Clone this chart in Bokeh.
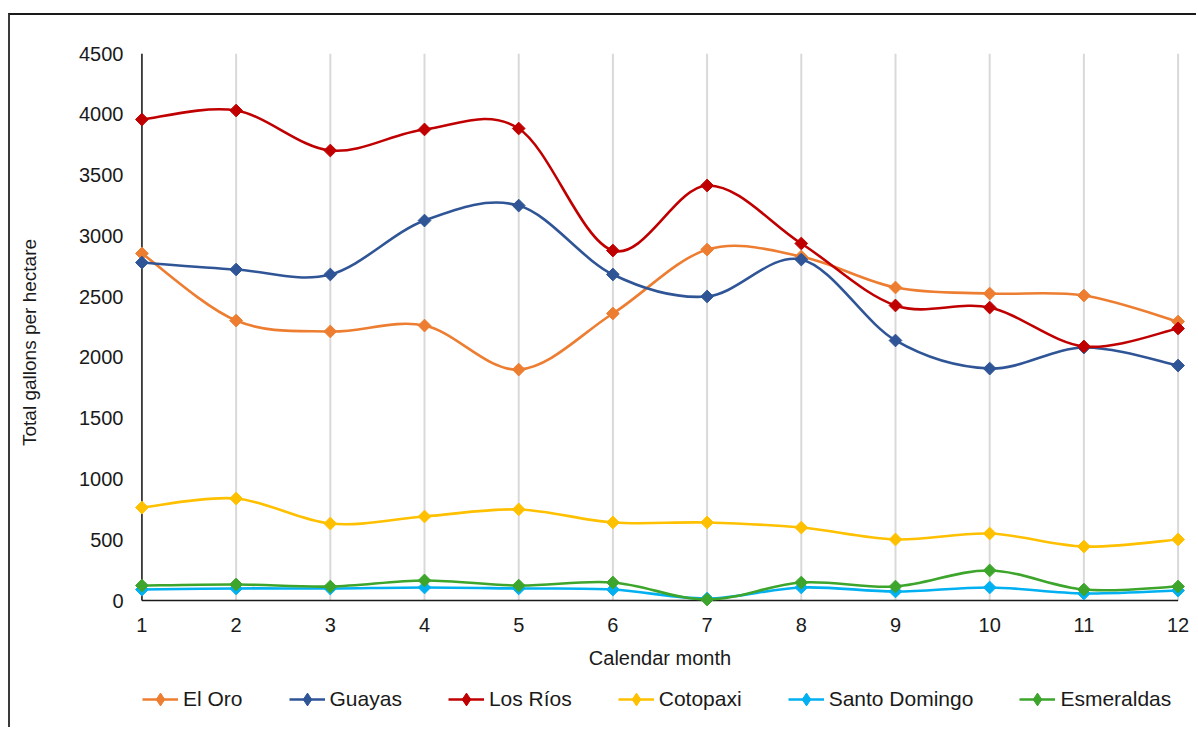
import numpy as np
from bokeh.plotting import figure
from bokeh.layouts import column
from bokeh.models import Range1d, FixedTicker, Legend, LegendItem
from bokeh.embed import file_html
from bokeh.resources import INLINE

# Monthly totals (gallons per hectare) by province
months = list(range(1, 13))
el_oro = [2855, 2303, 2213, 2262, 1900, 2361, 2887, 2830, 2575, 2525, 2509, 2295]
guayas = [2780, 2723, 2682, 3126, 3249, 2682, 2501, 2805, 2139, 1908, 2081, 1933]
los_rios = [3957, 4031, 3702, 3875, 3883, 2879, 3414, 2937, 2427, 2410, 2090, 2238]
cotopaxi = [765, 839, 633, 691, 749, 642, 642, 600, 502, 551, 444, 502]
santo_domingo = [90, 99, 99, 107, 99, 90, 16, 107, 74, 107, 58, 82]
esmeraldas = [123, 132, 115, 165, 123, 148, 8, 148, 115, 247, 90, 115]

y_ticks = [0, 500, 1000, 1500, 2000, 2500, 3000, 3500, 4000, 4500]

series = [
    ("El Oro", el_oro, "#ED7D31"),
    ("Guayas", guayas, "#2F5597"),
    ("Los Ríos", los_rios, "#C00000"),
    ("Cotopaxi", cotopaxi, "#FFC000"),
    ("Santo Domingo", santo_domingo, "#00B0F0"),
    ("Esmeraldas", esmeraldas, "#3DA52C"),
]

FONT = "Liberation Sans"
INK = "#1a1a1a"


def bezier_controls(x, y):
    """Cubic Bezier segments through the points (Catmull-Rom style smoothing)."""
    xs = np.asarray(x, dtype=float)
    ys = np.asarray(y, dtype=float)
    xp = np.concatenate([[xs[0]], xs, [xs[-1]]])
    yp = np.concatenate([[ys[0]], ys, [ys[-1]]])
    n = len(xs)
    seg = dict(x0=[], y0=[], x1=[], y1=[], cx0=[], cy0=[], cx1=[], cy1=[])
    for i in range(n - 1):
        p0x, p1x, p2x, p3x = xp[i], xp[i + 1], xp[i + 2], xp[i + 3]
        p0y, p1y, p2y, p3y = yp[i], yp[i + 1], yp[i + 2], yp[i + 3]
        seg["x0"].append(p1x)
        seg["y0"].append(p1y)
        seg["x1"].append(p2x)
        seg["y1"].append(p2y)
        seg["cx0"].append(p1x + (p2x - p0x) / 6.0)
        seg["cy0"].append(p1y + (p2y - p0y) / 6.0)
        seg["cx1"].append(p2x - (p3x - p1x) / 6.0)
        seg["cy1"].append(p2y - (p3y - p1y) / 6.0)
    return seg


W = 1188
p = figure(
    width=W, height=665,
    x_range=Range1d(0.9, 12.1), y_range=Range1d(-255, 4500),
    output_backend="svg", toolbar_location=None,
    min_border_left=122, min_border_right=11, min_border_top=38, min_border_bottom=49,
    margin=(13, 0, 0, 8),
    styles={"border-top": "2px solid #1a1a1a", "border-left": "2px solid #3a3a3a"},
)
p.outline_line_color = None
p.background_fill_color = "white"
p.border_fill_color = "white"
p.grid.visible = False

# vertical month gridlines
p.segment(x0=months, y0=[0] * len(months), x1=months, y1=[y_ticks[-1]] * len(months),
          line_color="#d9d9d9", line_width=2)
# axis baselines
p.segment(x0=[months[0]], y0=[0], x1=[months[-1]], y1=[0], line_color=INK, line_width=1.5)
p.segment(x0=[months[0]], y0=[0], x1=[months[0]], y1=[y_ticks[-1]], line_color=INK, line_width=1.5)

for name, vals, color in series:
    seg = bezier_controls(months, vals)
    p.bezier(line_color=color, line_width=2.6, line_cap="round", **seg)
    p.scatter(x=months, y=vals, marker="square", angle=np.pi / 4, size=9,
              fill_color=color, line_color=color, line_width=1)

ax_x = p.xaxis[0]
ax_x.ticker = FixedTicker(ticks=months)
ax_x.axis_line_color = None
ax_x.major_tick_line_color = None
ax_x.minor_tick_line_color = None
ax_x.major_label_standoff = -20
ax_x.major_label_text_font = FONT
ax_x.major_label_text_font_size = "20px"
ax_x.major_label_text_color = INK
ax_x.axis_label = "Calendar month"
ax_x.axis_label_text_font = FONT
ax_x.axis_label_text_font_size = "20px"
ax_x.axis_label_text_font_style = "normal"
ax_x.axis_label_text_color = INK
ax_x.axis_label_standoff = 12

ax_y = p.yaxis[0]
ax_y.ticker = FixedTicker(ticks=y_ticks)
ax_y.axis_line_color = None
ax_y.major_tick_line_color = None
ax_y.minor_tick_line_color = None
ax_y.major_label_standoff = 3
ax_y.major_label_text_font = FONT
ax_y.major_label_text_font_size = "20px"
ax_y.major_label_text_color = INK
ax_y.axis_label = "Total gallons per hectare"
ax_y.axis_label_text_font = FONT
ax_y.axis_label_text_font_size = "19px"
ax_y.axis_label_text_font_style = "normal"
ax_y.axis_label_text_color = INK
ax_y.axis_label_standoff = 36

# legend strip under the chart
lf = figure(
    width=W, height=49, x_range=Range1d(0, 1), y_range=Range1d(0, 1),
    output_backend="svg", toolbar_location=None,
    x_axis_location=None, y_axis_location=None,
    min_border=0, margin=(0, 0, 0, 8),
    styles={"border-left": "2px solid #3a3a3a"},
)
lf.outline_line_color = None
lf.grid.visible = False
lf.background_fill_color = "white"
lf.border_fill_color = "white"

items = []
for name, vals, color in series:
    leg_line = lf.line(x=[0], y=[np.nan], line_color=color, line_width=2.6)
    leg_mark = lf.scatter(x=[0], y=[np.nan], marker="diamond", fill_color=color,
                          line_color=color, line_width=1)
    items.append(LegendItem(label=name, renderers=[leg_line, leg_mark]))

legend = Legend(
    items=items, orientation="horizontal", location=(10, 12),
    glyph_width=36, glyph_height=32, label_standoff=5, spacing=46,
    label_text_font=FONT, label_text_font_size="21px", label_text_color=INK,
    border_line_color=None, background_fill_alpha=0, padding=0, margin=0,
)
lf.add_layout(legend, "center")

layout = column(p, lf, spacing=0)
open("out.html", "w").write(file_html(layout, INLINE))
